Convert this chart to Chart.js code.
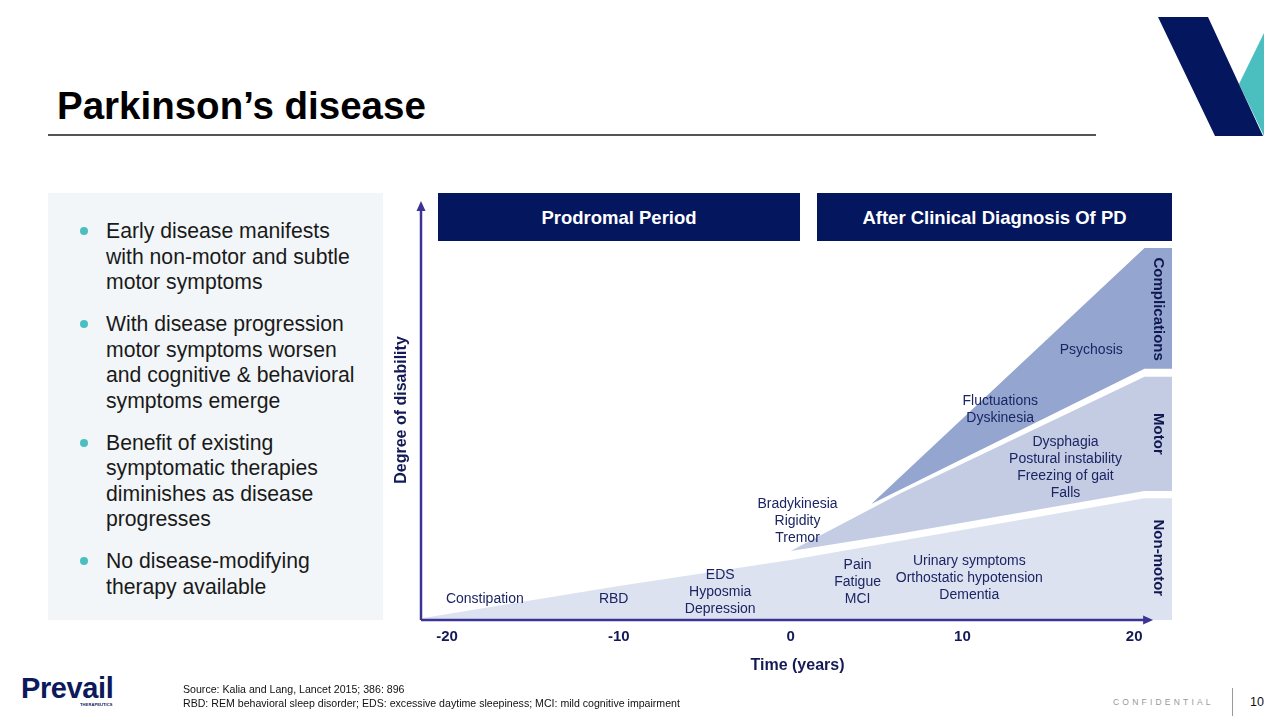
<!DOCTYPE html>
<html>
<head>
<meta charset="utf-8">
<title>Parkinson's disease</title>
<script src="https://cdn.jsdelivr.net/npm/chart.js@4.4.1/dist/chart.umd.min.js"></script>
<style>
body {
  margin: 0;
  width: 1280px;
  height: 720px;
  position: relative;
  overflow: hidden;
  background: #fff;
  font-family: "Liberation Sans", Arial, sans-serif;
}

.title {
  position: absolute;
  left: 57px;
  top: 84px;
  font-size: 38.5px;
  font-weight: bold;
  color: #000;
  margin: 0;
}

.rule {
  position: absolute;
  left: 48px;
  top: 134px;
  width: 1048px;
  height: 1.5px;
  background: #555;
}

.panel {
  position: absolute;
  left: 48px;
  top: 193px;
  width: 335px;
  height: 427px;
  background: #f3f6f8;
}

.bullets {
  list-style: none;
  margin: 0;
  padding: 0;
  position: absolute;
  left: 106px;
  top: 218px;
}

.bullets li {
  position: relative;
  font-size: 21.2px;
  line-height: 25.5px;
  color: #1a1a1a;
  margin-bottom: 16.5px;
  width: 254px;
}

.bullets li:before {
  content: "";
  position: absolute;
  left: -26px;
  top: 9px;
  width: 8px;
  height: 8px;
  border-radius: 50%;
  background: #4bbfc0;
}

.phase {
  position: absolute;
  top: 193px;
  height: 48px;
  background: #03165e;
  color: #fff;
  font-weight: bold;
  font-size: 18.5px;
  line-height: 50px;
  text-align: center;
}

.chart-box {
  position: absolute;
  left: 380px;
  top: 180px;
  width: 810px;
  height: 510px;
}

.footnote {
  position: absolute;
  left: 183px;
  top: 682px;
  font-size: 10.6px;
  line-height: 14px;
  color: #111;
}

.prevail {
  position: absolute;
  left: 21px;
  top: 672px;
  font-size: 29px;
  font-weight: bold;
  letter-spacing: -0.4px;
  color: #0c1a5c;
}

.prevail-sub {
  position: absolute;
  left: 80px;
  top: 702px;
  font-size: 4.2px;
  font-weight: bold;
  color: #0c1a5c;
}

.confidential {
  position: absolute;
  left: 1113px;
  top: 697px;
  font-size: 8.5px;
  letter-spacing: 3.2px;
  color: #999;
  white-space: nowrap;
}

.divider {
  position: absolute;
  left: 1232px;
  top: 688px;
  width: 1px;
  height: 28px;
  background: #999;
}

.page-no {
  position: absolute;
  left: 1250px;
  top: 695px;
  font-size: 12.5px;
  color: #111;
}
</style>
</head>
<body>
  <svg width="1280" height="150" style="position:absolute;left:0;top:0">
    <polygon points="1264,33 1239,84 1264,136" fill="#4bbfc0"></polygon>
    <polygon points="1158,17 1208,17 1263,136 1215,136" fill="#03165e"></polygon>
  </svg>

  <h1 class="title">Parkinson’s disease</h1>
  <div class="rule"></div>

  <div class="panel"></div>
  <ul class="bullets">
    <li>Early disease manifests with non-motor and subtle motor symptoms</li>
    <li>With disease progression motor symptoms worsen and cognitive &amp; behavioral symptoms emerge</li>
    <li>Benefit of existing symptomatic therapies diminishes as disease progresses</li>
    <li>No disease-modifying therapy available</li>
  </ul>

  <div class="phase" style="left:438px;width:362px">Prodromal Period</div>
  <div class="phase" style="left:817px;width:355px">After Clinical Diagnosis Of PD</div>

  <div class="chart-box">
    <canvas id="pdChart" width="810" height="510"></canvas>
  </div>

  <div class="prevail">Prevail</div>
  <div class="prevail-sub">THERAPEUTICS</div>
  <div class="footnote">
    Source: Kalia and Lang, Lancet 2015; 386: 896<br>
    RBD: REM behavioral sleep disorder; EDS: excessive daytime sleepiness; MCI: mild cognitive impairment
  </div>
  <div class="confidential">CONFIDENTIAL</div>
  <div class="divider"></div>
  <div class="page-no">10</div>

  <script type="text/javascript">
    // years relative to diagnosis (x) / degree of disability, 0-100 (y)
    var nonMotorYears = [-21.4, -10, 0, 10, 20.6, 22.2];
    var nonMotorTop   = [0.5, 8.1, 14.3, 21.4, 29.0, 29.0];

    var motorYears  = [0, 6.4, 20.6, 22.2];
    var motorBottom = [16.4, 20.6, 30.7, 30.7];
    var motorTop    = [16.4, 30.2, 57.9, 57.9];

    var complYears  = [4.7, 20.6, 22.2];
    var complBottom = [27.6, 59.8, 59.8];
    var complTop    = [27.6, 88.6, 88.6];

    var xTicks = [-20, -10, 0, 10, 20];

    var symptomText = [
      ['Constipation'],
      ['RBD'],
      ['EDS', 'Hyposmia', 'Depression'],
      ['Bradykinesia', 'Rigidity', 'Tremor'],
      ['Pain', 'Fatigue', 'MCI'],
      ['Urinary symptoms', 'Orthostatic hypotension', 'Dementia'],
      ['Fluctuations', 'Dyskinesia'],
      ['Dysphagia', 'Postural instability', 'Freezing of gait', 'Falls'],
      ['Psychosis']
    ];
    var symptomYear  = [-17.8, -10.3, -4.1, 0.4, 3.9, 10.4, 12.2, 16.0, 17.5];
    var symptomLevel = [5.0, 5.0, 6.7, 23.6, 9.0, 10.0, 50.0, 36.2, 64.3];

    var bandNames  = ['Complications', 'Motor', 'Non-motor'];
    var bandYear   = 21.4;
    var bandLevel  = [74.0, 44.3, 14.8];

    function pts(xs, ys) {
      return xs.map(function(x, i) { return { x: x, y: ys[i] }; });
    }

    var FONT = '"Liberation Sans", Arial, sans-serif';
    var NAVY = '#141a55';

    // axis arrows + text inside the plot
    var overlay = {
      id: 'overlay',
      afterDatasetsDraw: function(chart) {
        var ctx = chart.ctx;
        var xs = chart.scales.x, ys = chart.scales.y;
        var area = chart.chartArea;
        var ax = area.left - 2, ay = area.bottom;
        var xEnd = xs.getPixelForValue(21.1);

        ctx.save();
        ctx.strokeStyle = '#3b3494';
        ctx.fillStyle = '#3b3494';
        ctx.lineWidth = 2.5;
        ctx.beginPath();
        ctx.moveTo(ax, ay);
        ctx.lineTo(ax, area.top + 8);
        ctx.moveTo(ax, ay);
        ctx.lineTo(xEnd - 8, ay);
        ctx.stroke();
        ctx.beginPath();
        ctx.moveTo(ax, area.top + 1);
        ctx.lineTo(ax - 4.5, area.top + 11);
        ctx.lineTo(ax + 4.5, area.top + 11);
        ctx.closePath();
        ctx.fill();
        ctx.beginPath();
        ctx.moveTo(xEnd, ay);
        ctx.lineTo(xEnd - 10, ay - 4.5);
        ctx.lineTo(xEnd - 10, ay + 4.5);
        ctx.closePath();
        ctx.fill();

        ctx.fillStyle = '#1c2563';
        ctx.font = '14px ' + FONT;
        ctx.textAlign = 'center';
        ctx.textBaseline = 'middle';
        symptomText.forEach(function(lines, i) {
          var cx = xs.getPixelForValue(symptomYear[i]);
          var cy = ys.getPixelForValue(symptomLevel[i]);
          var lh = 17;
          var y0 = cy - (lines.length - 1) * lh / 2;
          lines.forEach(function(t, j) { ctx.fillText(t, cx, y0 + j * lh); });
        });

        ctx.fillStyle = '#101850';
        ctx.font = 'bold 15px ' + FONT;
        bandNames.forEach(function(name, i) {
          ctx.save();
          ctx.translate(xs.getPixelForValue(bandYear), ys.getPixelForValue(bandLevel[i]));
          ctx.rotate(Math.PI / 2);
          ctx.fillText(name, 0, 0);
          ctx.restore();
        });
        ctx.restore();
      }
    };

    var ctx = document.getElementById('pdChart').getContext('2d');
    var pdChart = new Chart(ctx, {
      type: 'line',
      data: {
        datasets: [
          { label: 'Non-motor', data: pts(nonMotorYears, nonMotorTop), fill: 'origin',
            backgroundColor: 'rgb(221,226,240)', borderColor: 'rgba(0,0,0,0)' },
          { label: 'Motor base', data: pts(motorYears, motorBottom), fill: false,
            borderColor: 'rgba(0,0,0,0)' },
          { label: 'Motor', data: pts(motorYears, motorTop), fill: '-1',
            backgroundColor: 'rgb(196,204,228)', borderColor: 'rgba(0,0,0,0)' },
          { label: 'Complications base', data: pts(complYears, complBottom), fill: false,
            borderColor: 'rgba(0,0,0,0)' },
          { label: 'Complications', data: pts(complYears, complTop), fill: '-1',
            backgroundColor: 'rgb(148,166,208)', borderColor: 'rgba(0,0,0,0)' }
        ]
      },
      options: {
        responsive: false,
        animation: false,
        layout: { padding: { top: 20, right: 18, left: 0, bottom: 0 } },
        elements: {
          point: { radius: 0, hoverRadius: 0 },
          line: { borderWidth: 0, tension: 0 }
        },
        plugins: {
          legend: { display: false },
          tooltip: { enabled: false }
        },
        scales: {
          x: {
            type: 'linear',
            min: -21.4,
            max: 22.2,
            grid: { display: false, drawTicks: false },
            border: { display: false },
            afterBuildTicks: function(scale) {
              scale.ticks = xTicks.map(function(v) { return { value: v }; });
            },
            afterFit: function(scale) { scale.height = 70; },
            ticks: {
              font: { family: FONT, size: 15, weight: 'bold' },
              color: NAVY,
              padding: 8
            },
            title: {
              display: true,
              text: 'Time (years)',
              font: { family: FONT, size: 16, weight: 'bold' },
              color: NAVY,
              padding: { top: 0, bottom: 15 }
            }
          },
          y: {
            min: 0,
            max: 100,
            ticks: { display: false },
            grid: { display: false, drawTicks: false },
            border: { display: false },
            afterFit: function(scale) { scale.width = 43; },
            title: {
              display: true,
              text: 'Degree of disability',
              font: { family: FONT, size: 16, weight: 'bold' },
              color: NAVY,
              padding: { top: 12, bottom: 0 }
            }
          }
        }
      },
      plugins: [overlay]
    });
  </script>
</body>
</html>
